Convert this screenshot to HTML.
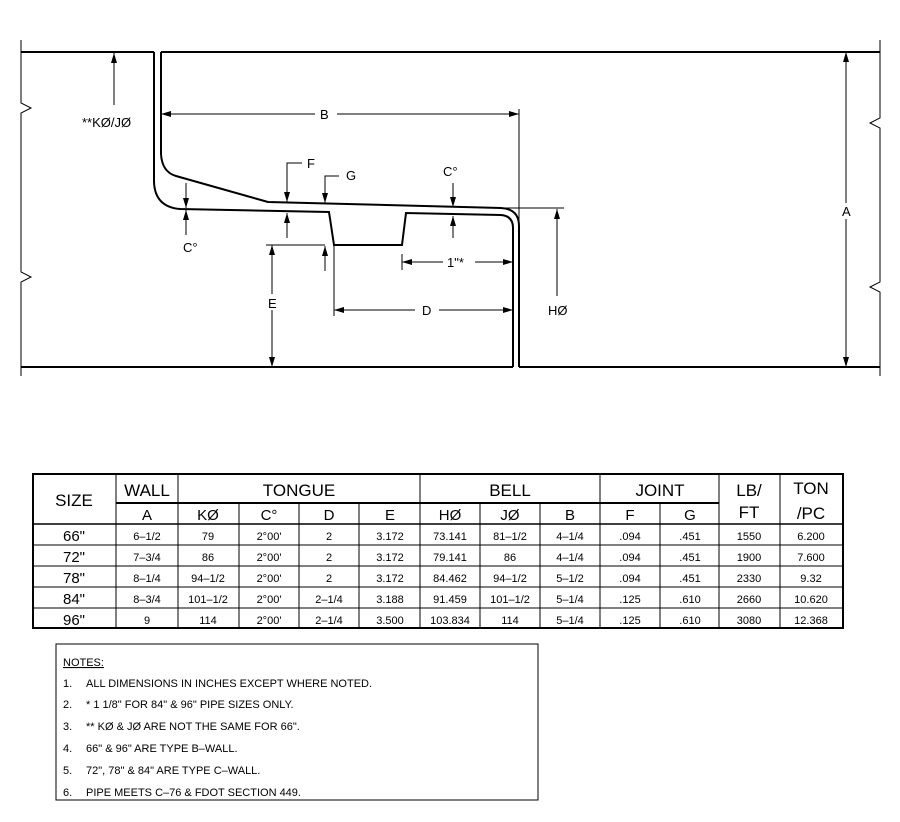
<!DOCTYPE html>
<html><head><style>
body{margin:0;background:#fff;}
svg text{font-family:"Liberation Sans",sans-serif;fill:#000;}
</style></head><body>
<svg width="900" height="817" viewBox="0 0 900 817" xmlns="http://www.w3.org/2000/svg">
<defs>
<marker id="a" viewBox="0 0 10 6" refX="10" refY="3" markerWidth="10" markerHeight="6" orient="auto-start-reverse" markerUnits="userSpaceOnUse"><path d="M0,0 L10,3 L0,6 z" fill="#000"/></marker>
</defs>
<g stroke="#000" fill="none">
<path d="M21,40 V103 L31,108 L21,113 V272 L31,277 L21,282 V376" stroke-width="1"/>
<path d="M880,40 V118 L870,123 L880,128 V282 L870,287 L880,292 V376" stroke-width="1"/>
<path d="M21,52 H154 M161,52 H880 M21,367 H513 M519,367 H880" stroke-width="2"/>
<path d="M154,52 V182 Q155,207 180,209 L329,212 L334,245 L402,245 L406,213 L501,215 Q513,216 513,228 V367" stroke-width="2"/>
<path d="M161,52 V154 Q162,172 176,176 L268,202 L501,208 Q519,209 519,226 V367" stroke-width="2"/>
<g stroke-width="1">
<line x1="114" y1="105" x2="114" y2="53" marker-end="url(#a)"/>
<line x1="161" y1="114" x2="519" y2="114" marker-start="url(#a)" marker-end="url(#a)"/>
<line x1="519" y1="109" x2="519" y2="222"/>
<line x1="505" y1="208" x2="564" y2="208"/>
<line x1="557" y1="296" x2="557" y2="209" marker-end="url(#a)"/>
<line x1="186" y1="183" x2="186" y2="208" marker-end="url(#a)"/>
<line x1="186" y1="235" x2="186" y2="210" marker-end="url(#a)"/>
<path d="M302,163 H287 V202" marker-end="url(#a)"/>
<line x1="287" y1="238" x2="287" y2="213" marker-end="url(#a)"/>
<path d="M339,176 H325 V203" marker-end="url(#a)"/>
<line x1="325" y1="271" x2="325" y2="246" marker-end="url(#a)"/>
<line x1="266" y1="245" x2="325" y2="245"/>
<line x1="272" y1="245" x2="272" y2="367" marker-start="url(#a)" marker-end="url(#a)"/>
<line x1="334" y1="245" x2="334" y2="316"/>
<line x1="334" y1="310" x2="513" y2="310" marker-start="url(#a)" marker-end="url(#a)"/>
<line x1="402" y1="254" x2="402" y2="270"/>
<line x1="402" y1="262" x2="513" y2="262" marker-start="url(#a)" marker-end="url(#a)"/>
<line x1="453" y1="183" x2="453" y2="207" marker-end="url(#a)"/>
<line x1="453" y1="238" x2="453" y2="216" marker-end="url(#a)"/>
<line x1="846" y1="52" x2="846" y2="367" marker-start="url(#a)" marker-end="url(#a)"/>
</g>
</g>
<g font-size="13">
<rect x="78" y="112" width="70" height="16" fill="#fff"/>
<text x="82" y="127">**KØ/JØ</text>
<rect x="315" y="106" width="22" height="16" fill="#fff"/>
<text x="320" y="119">B</text>
<text x="307" y="168">F</text>
<text x="346" y="180">G</text>
<text x="443" y="176">C°</text>
<text x="183" y="252">C°</text>
<rect x="265" y="294" width="14" height="16" fill="#fff"/>
<text x="268" y="308">E</text>
<rect x="415" y="302" width="24" height="16" fill="#fff"/>
<text x="422" y="315">D</text>
<rect x="443" y="254" width="32" height="16" fill="#fff"/>
<text x="447" y="267">1"*</text>
<text x="548" y="315">HØ</text>
<rect x="840" y="203" width="14" height="16" fill="#fff"/>
<text x="842" y="216">A</text>
</g>
<g stroke="#000" fill="none">
<rect x="33" y="474" width="810" height="154" stroke-width="2"/>
<line x1="116" y1="503" x2="719" y2="503" stroke-width="2"/>
<line x1="33" y1="524" x2="843" y2="524" stroke-width="1.5"/>
<g stroke-width="1">
<line x1="33" y1="545" x2="843" y2="545"/><line x1="33" y1="566" x2="843" y2="566"/>
<line x1="33" y1="587" x2="843" y2="587"/><line x1="33" y1="608" x2="843" y2="608"/>
<line x1="116" y1="474" x2="116" y2="628"/><line x1="178" y1="474" x2="178" y2="628"/>
<line x1="239" y1="503" x2="239" y2="628"/><line x1="299" y1="503" x2="299" y2="628"/>
<line x1="359" y1="503" x2="359" y2="628"/><line x1="420" y1="474" x2="420" y2="628"/>
<line x1="480" y1="503" x2="480" y2="628"/><line x1="540" y1="503" x2="540" y2="628"/>
<line x1="600" y1="474" x2="600" y2="628"/><line x1="660" y1="503" x2="660" y2="628"/>
<line x1="719" y1="474" x2="719" y2="628"/><line x1="780" y1="474" x2="780" y2="628"/>
</g>
</g>
<g font-size="17" text-anchor="middle">
<text x="74" y="506">SIZE</text><text x="147" y="496">WALL</text>
<text x="299" y="496">TONGUE</text><text x="510" y="496">BELL</text>
<text x="660" y="496">JOINT</text><text x="749" y="496">LB/</text>
<text x="811" y="494">TON</text><text x="749" y="518">FT</text><text x="811" y="519">/PC</text>
</g>
<g font-size="15" text-anchor="middle">
<text x="147" y="520">A</text><text x="208" y="520">KØ</text><text x="269" y="520">C°</text>
<text x="329" y="520">D</text><text x="390" y="520">E</text><text x="450" y="520">HØ</text>
<text x="510" y="520">JØ</text><text x="570" y="520">B</text><text x="630" y="520">F</text><text x="690" y="520">G</text>
</g>
<g font-size="15" text-anchor="middle">
<text x="74" y="541">66"</text><text x="74" y="562">72"</text><text x="74" y="583">78"</text><text x="74" y="604">84"</text><text x="74" y="625">96"</text>
</g>
<g font-size="11" text-anchor="middle">
<text x="147" y="540">6–1/2</text><text x="208" y="540">79</text><text x="269" y="540">2°00'</text><text x="329" y="540">2</text><text x="390" y="540">3.172</text><text x="450" y="540">73.141</text><text x="510" y="540">81–1/2</text><text x="570" y="540">4–1/4</text><text x="630" y="540">.094</text><text x="690" y="540">.451</text><text x="749" y="540">1550</text><text x="811" y="540">6.200</text>
<text x="147" y="561">7–3/4</text><text x="208" y="561">86</text><text x="269" y="561">2°00'</text><text x="329" y="561">2</text><text x="390" y="561">3.172</text><text x="450" y="561">79.141</text><text x="510" y="561">86</text><text x="570" y="561">4–1/4</text><text x="630" y="561">.094</text><text x="690" y="561">.451</text><text x="749" y="561">1900</text><text x="811" y="561">7.600</text>
<text x="147" y="582">8–1/4</text><text x="208" y="582">94–1/2</text><text x="269" y="582">2°00'</text><text x="329" y="582">2</text><text x="390" y="582">3.172</text><text x="450" y="582">84.462</text><text x="510" y="582">94–1/2</text><text x="570" y="582">5–1/2</text><text x="630" y="582">.094</text><text x="690" y="582">.451</text><text x="749" y="582">2330</text><text x="811" y="582">9.32</text>
<text x="147" y="603">8–3/4</text><text x="208" y="603">101–1/2</text><text x="269" y="603">2°00'</text><text x="329" y="603">2–1/4</text><text x="390" y="603">3.188</text><text x="450" y="603">91.459</text><text x="510" y="603">101–1/2</text><text x="570" y="603">5–1/4</text><text x="630" y="603">.125</text><text x="690" y="603">.610</text><text x="749" y="603">2660</text><text x="811" y="603">10.620</text>
<text x="147" y="624">9</text><text x="208" y="624">114</text><text x="269" y="624">2°00'</text><text x="329" y="624">2–1/4</text><text x="390" y="624">3.500</text><text x="450" y="624">103.834</text><text x="510" y="624">114</text><text x="570" y="624">5–1/4</text><text x="630" y="624">.125</text><text x="690" y="624">.610</text><text x="749" y="624">3080</text><text x="811" y="624">12.368</text>
</g>
<rect x="56" y="644" width="482" height="156" fill="none" stroke="#000" stroke-width="1"/>
<g font-size="11">
<text x="63" y="666" text-decoration="underline">NOTES:</text>
<text x="63" y="687">1.</text><text x="86" y="687">ALL DIMENSIONS IN INCHES EXCEPT WHERE NOTED.</text>
<text x="63" y="708">2.</text><text x="86" y="708">* 1 1/8" FOR 84" &amp; 96" PIPE SIZES ONLY.</text>
<text x="63" y="730">3.</text><text x="86" y="730">** KØ &amp; JØ ARE NOT THE SAME FOR 66".</text>
<text x="63" y="752">4.</text><text x="86" y="752">66" &amp; 96" ARE TYPE B–WALL.</text>
<text x="63" y="774">5.</text><text x="86" y="774">72", 78" &amp; 84" ARE TYPE C–WALL.</text>
<text x="63" y="796">6.</text><text x="86" y="796">PIPE MEETS C–76 &amp; FDOT SECTION 449.</text>
</g>
</svg>
</body></html>
